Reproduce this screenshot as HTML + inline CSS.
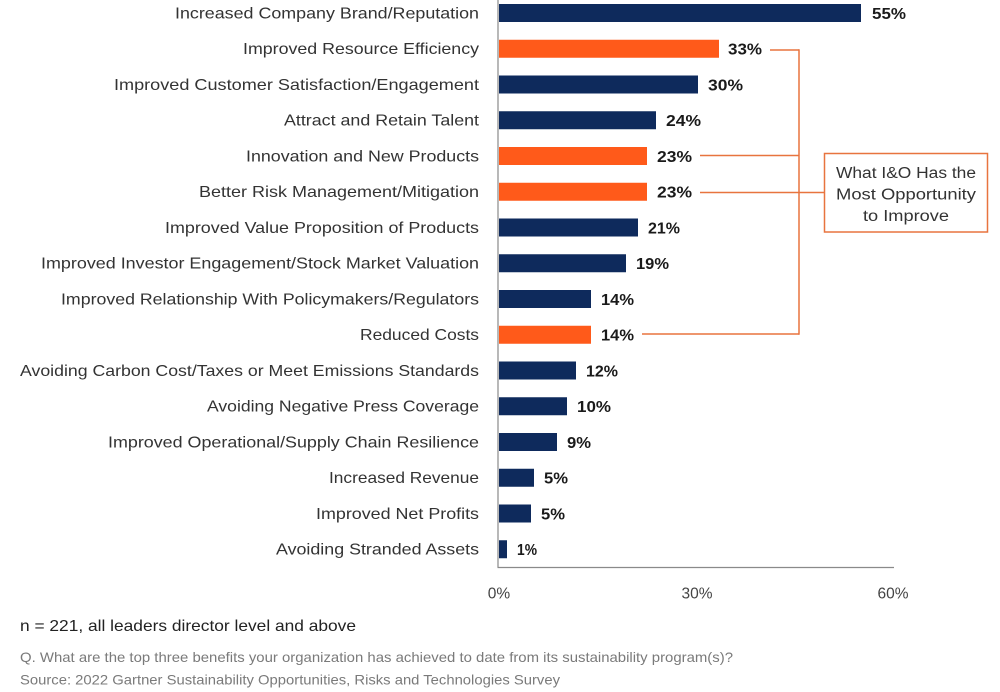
<!DOCTYPE html>
<html>
<head>
<meta charset="utf-8">
<style>
html,body{margin:0;padding:0;background:#fff;}
svg{display:block;}
text{font-family:"Liberation Sans",sans-serif;}
</style>
</head>
<body>
<svg width="1000" height="692" viewBox="0 0 1000 692" xmlns="http://www.w3.org/2000/svg">
<rect width="1000" height="692" fill="#fff"/>
<g font-size="16" fill="#333" text-anchor="end">
<text x="479" y="18.5" textLength="304" lengthAdjust="spacingAndGlyphs">Increased Company Brand/Reputation</text>
<text x="479" y="54.2" textLength="236" lengthAdjust="spacingAndGlyphs">Improved Resource Efficiency</text>
<text x="479" y="90" textLength="365" lengthAdjust="spacingAndGlyphs">Improved Customer Satisfaction/Engagement</text>
<text x="479" y="125.7" textLength="195" lengthAdjust="spacingAndGlyphs">Attract and Retain Talent</text>
<text x="479" y="161.5" textLength="233" lengthAdjust="spacingAndGlyphs">Innovation and New Products</text>
<text x="479" y="197.2" textLength="280" lengthAdjust="spacingAndGlyphs">Better Risk Management/Mitigation</text>
<text x="479" y="233" textLength="314" lengthAdjust="spacingAndGlyphs">Improved Value Proposition of Products</text>
<text x="479" y="268.7" textLength="438" lengthAdjust="spacingAndGlyphs">Improved Investor Engagement/Stock Market Valuation</text>
<text x="479" y="304.5" textLength="418" lengthAdjust="spacingAndGlyphs">Improved Relationship With Policymakers/Regulators</text>
<text x="479" y="340.2" textLength="119" lengthAdjust="spacingAndGlyphs">Reduced Costs</text>
<text x="479" y="376" textLength="459" lengthAdjust="spacingAndGlyphs">Avoiding Carbon Cost/Taxes or Meet Emissions Standards</text>
<text x="479" y="411.7" textLength="272" lengthAdjust="spacingAndGlyphs">Avoiding Negative Press Coverage</text>
<text x="479" y="447.5" textLength="371" lengthAdjust="spacingAndGlyphs">Improved Operational/Supply Chain Resilience</text>
<text x="479" y="483.2" textLength="150" lengthAdjust="spacingAndGlyphs">Increased Revenue</text>
<text x="479" y="519" textLength="163" lengthAdjust="spacingAndGlyphs">Improved Net Profits</text>
<text x="479" y="554.7" textLength="203" lengthAdjust="spacingAndGlyphs">Avoiding Stranded Assets</text>
</g>
<!-- bars -->
<g>
<rect x="499" y="4" width="362" height="18" fill="#0e2a5c"/>
<rect x="499" y="39.75" width="220" height="18" fill="#ff5a1a"/>
<rect x="499" y="75.5" width="199" height="18" fill="#0e2a5c"/>
<rect x="499" y="111.25" width="157" height="18" fill="#0e2a5c"/>
<rect x="499" y="147" width="148" height="18" fill="#ff5a1a"/>
<rect x="499" y="182.75" width="148" height="18" fill="#ff5a1a"/>
<rect x="499" y="218.5" width="139" height="18" fill="#0e2a5c"/>
<rect x="499" y="254.25" width="127" height="18" fill="#0e2a5c"/>
<rect x="499" y="290" width="92" height="18" fill="#0e2a5c"/>
<rect x="499" y="325.75" width="92" height="18" fill="#ff5a1a"/>
<rect x="499" y="361.5" width="77" height="18" fill="#0e2a5c"/>
<rect x="499" y="397.25" width="68" height="18" fill="#0e2a5c"/>
<rect x="499" y="433" width="58" height="18" fill="#0e2a5c"/>
<rect x="499" y="468.75" width="35" height="18" fill="#0e2a5c"/>
<rect x="499" y="504.5" width="32" height="18" fill="#0e2a5c"/>
<rect x="499" y="540.25" width="8" height="18" fill="#0e2a5c"/>
</g>
<!-- value labels -->
<g font-size="16" font-weight="bold" fill="#1a1a1a">
<text x="872" y="19" textLength="34" lengthAdjust="spacingAndGlyphs">55%</text>
<text x="728" y="54.7" textLength="34" lengthAdjust="spacingAndGlyphs">33%</text>
<text x="708" y="90.5" textLength="35" lengthAdjust="spacingAndGlyphs">30%</text>
<text x="666" y="126.2" textLength="35" lengthAdjust="spacingAndGlyphs">24%</text>
<text x="657" y="162" textLength="35" lengthAdjust="spacingAndGlyphs">23%</text>
<text x="657" y="197.7" textLength="35" lengthAdjust="spacingAndGlyphs">23%</text>
<text x="648" y="233.5" textLength="32" lengthAdjust="spacingAndGlyphs">21%</text>
<text x="636" y="269.2" textLength="33" lengthAdjust="spacingAndGlyphs">19%</text>
<text x="601" y="305" textLength="33" lengthAdjust="spacingAndGlyphs">14%</text>
<text x="601" y="340.7" textLength="33" lengthAdjust="spacingAndGlyphs">14%</text>
<text x="586" y="376.5" textLength="32" lengthAdjust="spacingAndGlyphs">12%</text>
<text x="577" y="412.2" textLength="34" lengthAdjust="spacingAndGlyphs">10%</text>
<text x="567" y="448" textLength="24" lengthAdjust="spacingAndGlyphs">9%</text>
<text x="544" y="483.7" textLength="24" lengthAdjust="spacingAndGlyphs">5%</text>
<text x="541" y="519.5" textLength="24" lengthAdjust="spacingAndGlyphs">5%</text>
<text x="517" y="555.2" textLength="20" lengthAdjust="spacingAndGlyphs">1%</text>
</g>
<!-- axes -->
<line x1="498" y1="0" x2="498" y2="567.5" stroke="#8a8a8a" stroke-width="1.2"/>
<line x1="497.5" y1="567.5" x2="894" y2="567.5" stroke="#8a8a8a" stroke-width="1.2"/>
<g font-size="15.5" fill="#444" text-anchor="middle">
<text x="499" y="598.5">0%</text>
<text x="697" y="598.5">30%</text>
<text x="893" y="598.5">60%</text>
</g>
<!-- bracket -->
<g stroke="#e8743f" stroke-width="1.5" fill="none">
<line x1="770" y1="50" x2="799" y2="50"/>
<line x1="700" y1="155.5" x2="799" y2="155.5"/>
<line x1="700" y1="192.5" x2="824" y2="192.5"/>
<line x1="642" y1="334" x2="799" y2="334"/>
<line x1="799" y1="49.25" x2="799" y2="334.75"/>
<rect x="824.5" y="153.5" width="163" height="78.5"/>
</g>
<g font-size="15.5" fill="#333" text-anchor="middle">
<text x="906" y="178" textLength="140" lengthAdjust="spacingAndGlyphs">What I&amp;O Has the</text>
<text x="906" y="199.5" textLength="140" lengthAdjust="spacingAndGlyphs">Most Opportunity</text>
<text x="906" y="221" textLength="86" lengthAdjust="spacingAndGlyphs">to Improve</text>
</g>
<!-- footer -->
<text x="20" y="631" font-size="16" fill="#222" textLength="336" lengthAdjust="spacingAndGlyphs">n = 221, all leaders director level and above</text>
<text x="20" y="662" font-size="14" fill="#7a7a7a" textLength="713" lengthAdjust="spacingAndGlyphs">Q. What are the top three benefits your organization has achieved to date from its sustainability program(s)?</text>
<text x="20" y="684.5" font-size="14" fill="#7a7a7a" textLength="540" lengthAdjust="spacingAndGlyphs">Source: 2022 Gartner Sustainability Opportunities, Risks and Technologies Survey</text>
</svg>
</body>
</html>
